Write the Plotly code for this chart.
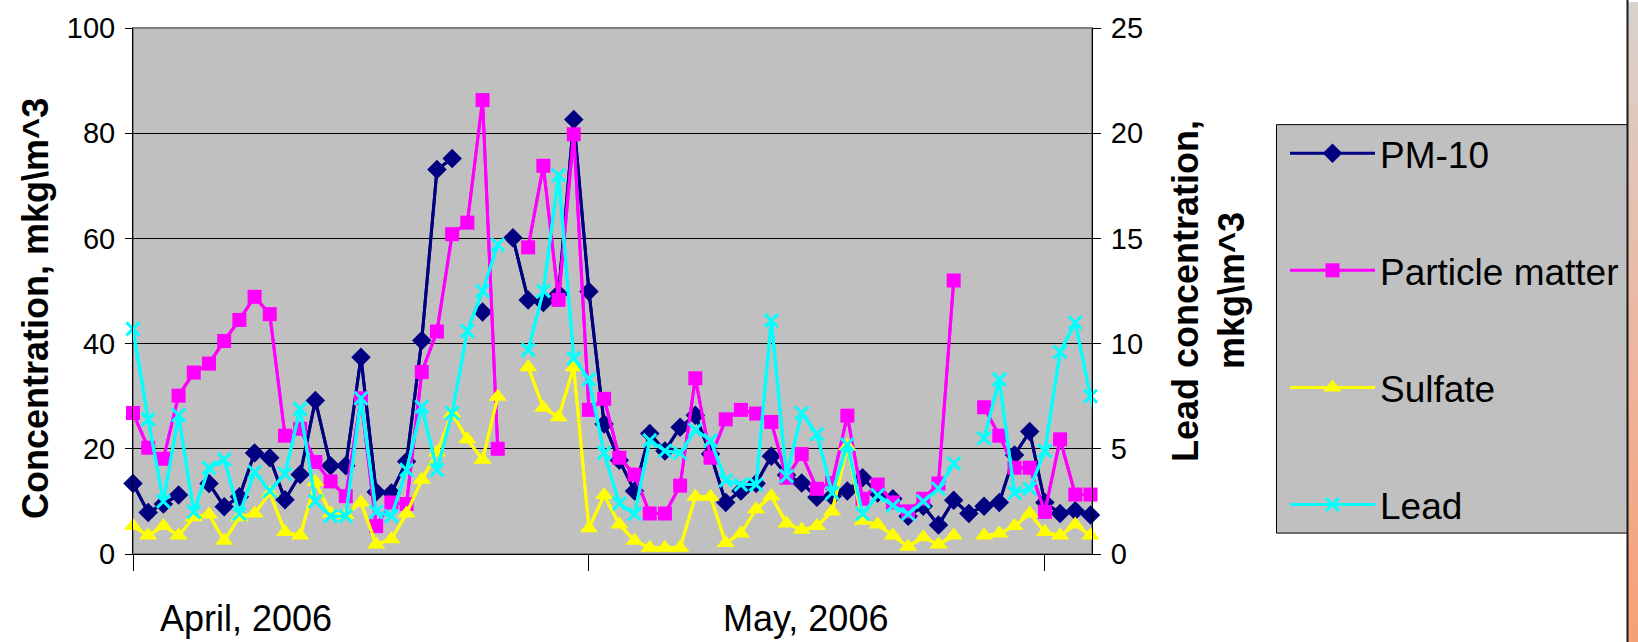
import plotly.graph_objects as go

# Daily sampling index: day 0 sits on the left axis, ticks every 30 days.
day = list(range(-1, 65))

pm10 = [31, 13.4, 7.9, 9.5, 11.2, None, 13.4, 9.0, 10.9, 19.2, 18.3,
        10.3, 15.1, 29.2, 16.8, 16.8, 37.4, 11.8, 11.6, 17.6, 40.6,
        73.1, 75.2, None, 46.0, None, 60.1, 48.3, 47.8, 49.5, 82.6,
        49.9, 24.7, 17.8, 12.0, 22.9, 19.6, 24.1, 26.4, 19.0, 9.8,
        12.0, 13.4, 18.6, 15.0, 13.5, 10.8, 11.0, 12.0, 14.5, 11.6,
        10.5, 7.2, 9.1, 5.5, 10.2, 7.7, 9.1, 9.8, 18.8, 23.3,
        9.8, 7.7, 8.2, 7.4, 9.0]

particle = [33, 26.8, 20.2, 18.1, 30.1, 34.5, 36.2, 40.5, 44.5, 48.9, 45.6,
            22.5, 23.8, 17.5, 13.8, 11.0, 29.6, 5.3, 9.8, 9.5, 34.6,
            42.3, 60.8, 63.0, 86.3, 20.0, None, 58.3, 73.8, 48.3, 79.8,
            27.4, 29.5, 18.3, 15.1, 7.7, 7.7, 13.0, 33.4, 18.3, 25.6,
            27.4, 26.7, 25.1, 14.5, 19.0, 12.4, 13.5, 26.3, 10.5, 13.2,
            9.8, 8.1, 10.5, 13.4, 52.0, None, 27.9, 22.5, 16.4, 16.4,
            8.0, 21.8, 11.3, 11.3, 10.5]

sulfate = [None, 5.3, 3.5, 5.3, 3.5, 7.0, 7.5, 2.5, 7.0, 7.7, 11.6,
           4.2, 3.5, 13.7, 7.7, 7.4, 9.8, 1.8, 2.8, 7.7, 14.1,
           19.3, 26.7, 21.8, 17.9, 29.9, None, 35.5, 27.8, 26.0, 35.5,
           4.9, 11.2, 5.6, 2.5, 1.2, 1.2, 1.2, 10.9, 10.9, 2.1,
           3.9, 8.5, 11.0, 5.8, 4.6, 5.3, 8.1, 20.5, 6.3, 5.6,
           3.5, 1.4, 3.2, 1.8, 3.5, None, 3.5, 3.9, 5.3, 7.7,
           4.2, 3.5, 5.6, 3.5, 2.5]

# Lead is read against the right-hand axis
lead = [5.5, 10.7, 6.4, 2.5, 6.6, 2.0, 4.1, 4.5, 1.9, 3.9, 3.0,
        3.8, 6.9, 2.5, 1.8, 1.8, 7.4, 2.0, 1.8, 4.0, 7.0,
        4.0, 6.7, 10.6, 12.5, 14.7, None, 9.7, 12.5, 18.0, 9.3,
        8.3, 4.8, 2.4, 1.9, 5.4, 4.9, 4.8, 5.9, 5.4, 3.5,
        3.3, 3.3, 11.1, 3.7, 6.7, 5.7, 2.9, 5.2, 1.9, 2.8,
        2.3, 1.9, 2.5, 3.1, 4.3, None, 5.5, 8.3, 2.9, 3.1,
        4.9, 9.6, 11.0, 7.5, 4.5]

series_names = ["PM-10", "Particle matter", "Sulfate", "Lead"]
month_labels = ["April, 2006", "May, 2006"]
month_ticks = [0, 30, 60]
left_ticks = [0, 20, 40, 60, 80, 100]
right_ticks = [0, 5, 10, 15, 20, 25]

FONT = "Liberation Sans, Arial, sans-serif"
W, H = 1638, 642
ML, MR, MT, MB = 133, 546, 26, 88
PW, PH = W - ML - MR, H - MT - MB
X_MAX = 63.1


def px_x(x):
    return (x - ML) / PW


def px_y(y):
    return (H - MB - y) / PH


styles = [
    dict(color="#000080", symbol="diamond", size=15, axis="y"),
    dict(color="#FF00FF", symbol="square", size=14, axis="y"),
    dict(color="#FFFF00", symbol="triangle-up", size=16, axis="y"),
    dict(color="#00FFFF", symbol="x-thin", size=13, axis="y2"),
]
values = [pm10, particle, sulfate, lead]

fig = go.Figure()
for name, vals, st in zip(series_names, values, styles):
    # full run of days, clipped at the plot edges
    fig.add_trace(go.Scatter(
        x=day, y=vals, mode="lines", yaxis=st["axis"],
        line=dict(color=st["color"], width=3),
        showlegend=False, hoverinfo="skip"))
    inside = [(d, v) for d, v in zip(day, vals) if 0 <= d <= X_MAX]
    marker = dict(color=st["color"], symbol=st["symbol"], size=st["size"])
    if st["symbol"] == "x-thin":
        marker["line"] = dict(color=st["color"], width=3)
    fig.add_trace(go.Scatter(
        x=[d for d, _ in inside], y=[v for _, v in inside],
        mode="lines+markers", name=name, yaxis=st["axis"],
        legendgroup=name, cliponaxis=False,
        line=dict(color=st["color"], width=3), marker=marker))

shapes = []
# plot-area frame
shapes.append(dict(type="rect", xref="paper", yref="paper", x0=0, x1=1, y0=0, y1=1,
                   line=dict(color="#808080", width=2), layer="below"))
# legend frame
shapes.append(dict(type="rect", xref="paper", yref="paper",
                   x0=px_x(1276.5), x1=px_x(1627.5), y0=px_y(533), y1=px_y(123),
                   fillcolor="#C0C0C0", line=dict(color="black", width=1), layer="below"))

# slide edge strip on the far right
stops = [(217, 209, 204), (236, 184, 162), (246, 160, 118)]
bands = 32
for k in range(bands):
    t = k / (bands - 1)
    if t <= 0.5:
        a, b, f = stops[0], stops[1], t / 0.5
    else:
        a, b, f = stops[1], stops[2], (t - 0.5) / 0.5
    c = tuple(round(a[j] + (b[j] - a[j]) * f) for j in range(3))
    shapes.append(dict(type="rect", xref="paper", yref="paper",
                       x0=px_x(1628), x1=px_x(1640),
                       y0=px_y(H * (k + 1) / bands + 1), y1=px_y(H * k / bands),
                       fillcolor="rgb(%d,%d,%d)" % c, line=dict(width=0), layer="above"))
shapes.append(dict(type="line", xref="paper", yref="paper",
                   x0=px_x(1627.5), x1=px_x(1627.5), y0=px_y(H + 2), y1=px_y(-2),
                   line=dict(color="#1a1a1a", width=2), layer="above"))

annotations = [
    dict(text="<b>Concentration, mkg\\m^3</b>", xref="paper", yref="paper",
         x=px_x(36), y=px_y(308), textangle=-90, showarrow=False,
         xanchor="center", yanchor="middle",
         font=dict(family=FONT, size=36, color="black")),
    dict(text="<b>Lead concentration,</b>", xref="paper", yref="paper",
         x=px_x(1185), y=px_y(290), textangle=-90, showarrow=False,
         xanchor="center", yanchor="middle",
         font=dict(family=FONT, size=36, color="black")),
    dict(text="<b>mkg\\m^3</b>", xref="paper", yref="paper",
         x=px_x(1231), y=px_y(290), textangle=-90, showarrow=False,
         xanchor="center", yanchor="middle",
         font=dict(family=FONT, size=36, color="black")),
]
for label, cx in zip(month_labels, [245.5, 805.4]):
    annotations.append(dict(text=label, xref="paper", yref="paper",
                            x=px_x(cx), y=px_y(619), showarrow=False,
                            xanchor="center", yanchor="middle",
                            font=dict(family=FONT, size=36, color="black")))

fig.update_layout(
    width=W, height=H,
    margin=dict(l=ML, r=MR, t=MT, b=MB, pad=0),
    paper_bgcolor="white", plot_bgcolor="#C0C0C0",
    font=dict(family=FONT, color="black"),
    showlegend=True,
    legend=dict(x=px_x(1285), y=px_y(121), xanchor="left", yanchor="top",
                bgcolor="rgba(0,0,0,0)", borderwidth=0,
                font=dict(family=FONT, size=37, color="black"),
                itemwidth=85, traceorder="grouped", tracegroupgap=66),
    xaxis=dict(range=[0, X_MAX], tickvals=month_ticks, ticks="outside", ticklen=16,
               tickcolor="black", tickwidth=1, showticklabels=False,
               showgrid=False, zeroline=False, showline=True,
               linecolor="black", linewidth=1),
    yaxis=dict(range=[0, 100], tickvals=left_ticks, ticks="outside", ticklen=7,
               tickcolor="black", showgrid=True, gridcolor="black", gridwidth=1,
               zeroline=False, showline=True, linecolor="black", linewidth=1,
               tickfont=dict(family=FONT, size=29, color="black"),
               ticklabelstandoff=4),
    yaxis2=dict(range=[0, 25], tickvals=right_ticks, overlaying="y", side="right",
                ticks="outside", ticklen=8, tickcolor="black", showgrid=False,
                zeroline=False, showline=True, linecolor="black", linewidth=1,
                tickfont=dict(family=FONT, size=29, color="black"),
                ticklabelstandoff=4),
    shapes=shapes,
    annotations=annotations,
)

fig.write_html("out.html")
